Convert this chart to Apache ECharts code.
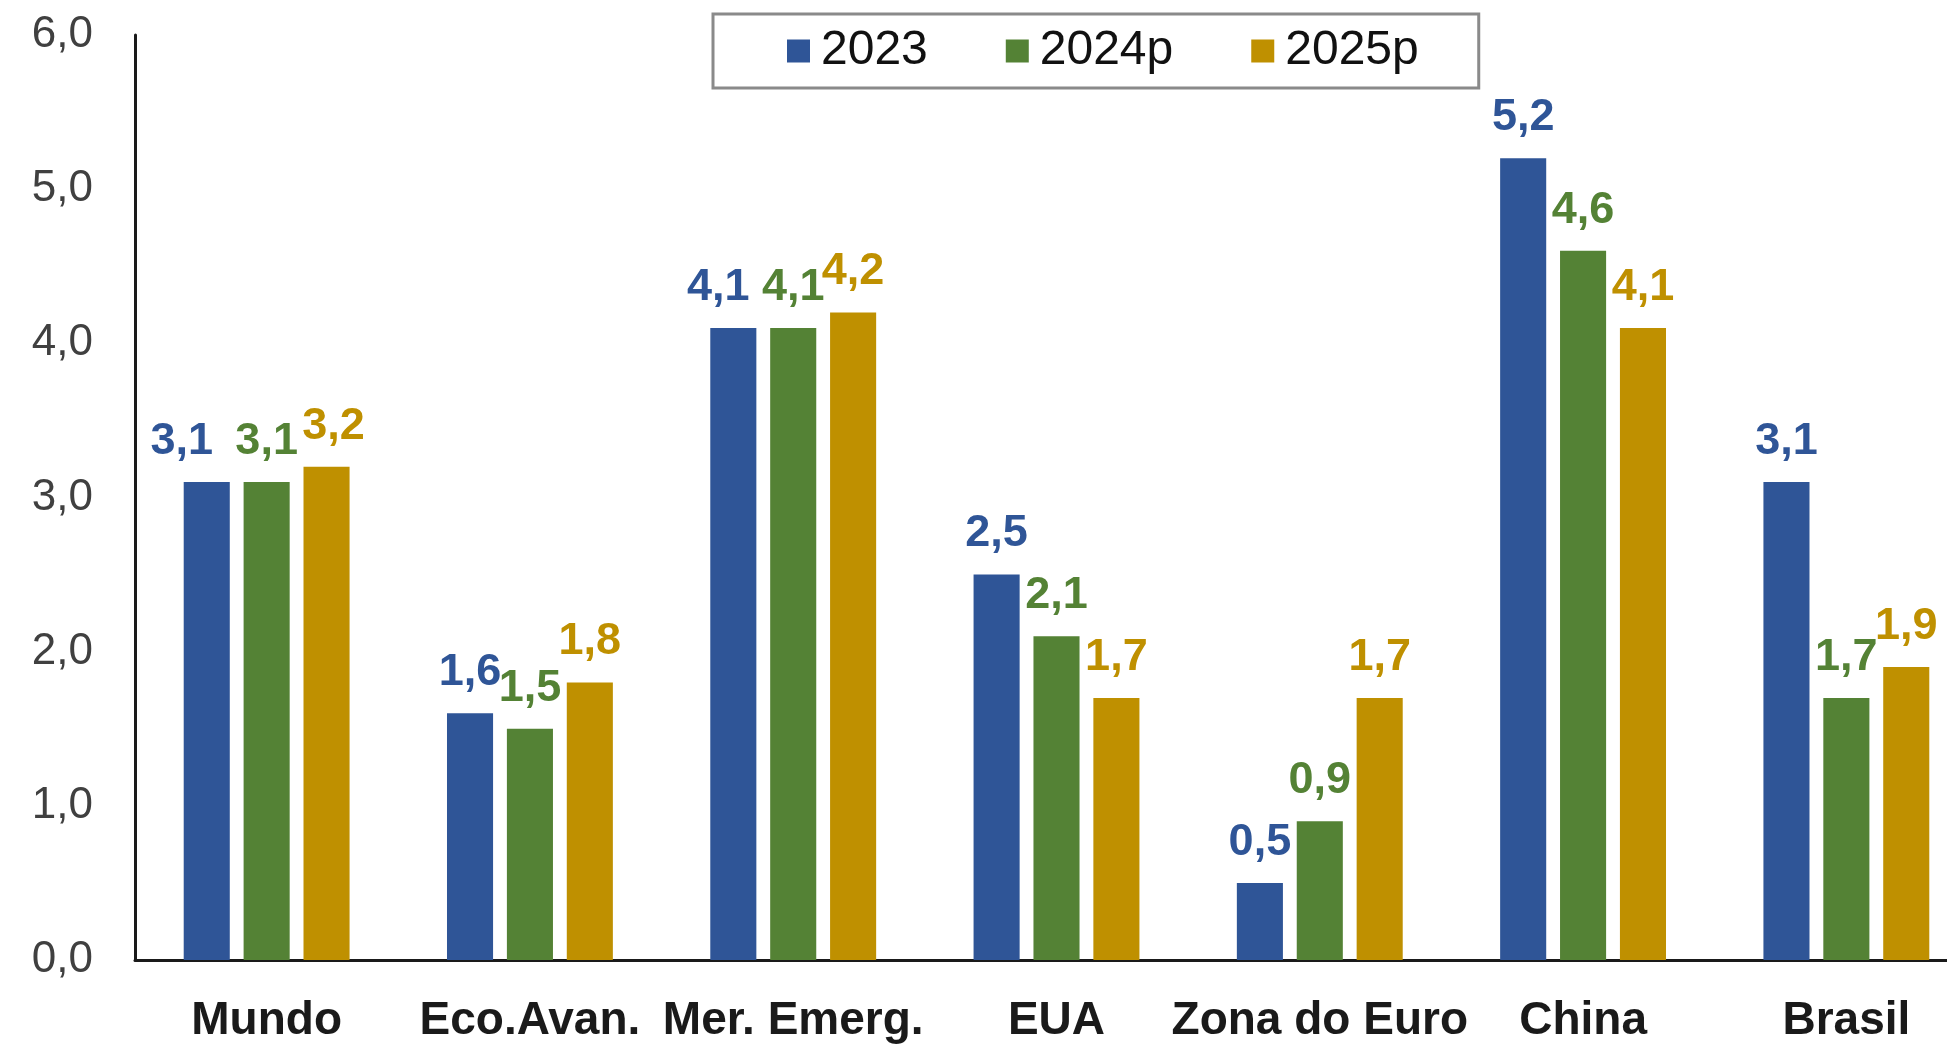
<!DOCTYPE html>
<html>
<head>
<meta charset="utf-8">
<script src="https://cdn.jsdelivr.net/npm/echarts@6/dist/echarts.min.js"></script>
<style>
  html, body { margin: 0; padding: 0; background: #fff; }
  #chart { width: 1947px; height: 1047px; }
</style>
</head>
<body>
<div id="chart"></div>
<script>
var categories = ['Mundo', 'Eco.Avan.', 'Mer. Emerg.', 'EUA', 'Zona do Euro', 'China', 'Brasil'];
var v2023 = [3.1, 1.6, 4.1, 2.5, 0.5, 5.2, 3.1];
var v2024p = [3.1, 1.5, 4.1, 2.1, 0.9, 4.6, 1.7];
var v2025p = [3.2, 1.8, 4.2, 1.7, 1.7, 4.1, 1.9];
var seriesNames = ['2023', '2024p', '2025p'];
var colors = ['#2F5597', '#548235', '#BF9000'];

// a few labels were nudged sideways in the original to avoid overlapping
var labelNudge = [{ 0: -25, 2: -15 }, {}, { 0: 7 }];

var chart = echarts.init(document.getElementById('chart'));

function fmt(v) {
    return v.toFixed(1).replace('.', ',');
}

function makeSeries(idx, data) {
    var color = colors[idx];
    var items = data.map(function (v, i) {
        var dx = labelNudge[idx][i];
        if (dx) return { value: v, label: { offset: [dx, 0] } };
        return v;
    });
    return {
        name: seriesNames[idx],
        type: 'bar',
        data: items,
        barGap: '30%',
        barCategoryGap: '37%',
        itemStyle: { color: color },
        label: {
            show: true,
            position: 'top',
            distance: 18,
            color: color,
            fontFamily: 'Liberation Sans, Arial, sans-serif',
            fontWeight: 'bold',
            fontSize: 45,
            formatter: function (p) { return fmt(p.value); }
        }
    };
}

var option = {
    animation: false,
    color: colors,
    // plot runs a little past the right edge, as in the source image
    grid: { left: 135, width: 1843, top: 35, bottom: 87, containLabel: false, outerBoundsMode: 'none' },
    legend: {
        left: 713,
        top: 14,
        padding: [13, 60, 13, 74],
        itemGap: 78,
        itemWidth: 23,
        itemHeight: 23,
        borderColor: '#8a8a8a',
        borderWidth: 3,
        icon: 'rect',
        textStyle: {
            fontFamily: 'Liberation Sans, Arial, sans-serif',
            fontSize: 48,
            color: '#111',
            padding: [0, 0, 0, 6]
        },
        data: seriesNames
    },
    xAxis: {
        type: 'category',
        data: categories,
        axisLine: { lineStyle: { color: '#1a1a1a', width: 3 } },
        axisTick: { show: false },
        axisLabel: {
            margin: 38,
            color: '#1a1a1a',
            fontFamily: 'Liberation Sans, Arial, sans-serif',
            fontWeight: 'bold',
            fontSize: 46,
            interval: 0
        }
    },
    yAxis: {
        type: 'value',
        min: 0,
        max: 6,
        interval: 1,
        splitLine: { show: false },
        axisTick: { show: false },
        axisLine: { show: true, lineStyle: { color: '#1a1a1a', width: 3 } },
        axisLabel: {
            margin: 42,
            color: '#404040',
            fontFamily: 'Liberation Sans, Arial, sans-serif',
            fontSize: 44,
            formatter: function (v) { return fmt(v); }
        }
    },
    series: [
        makeSeries(0, v2023),
        makeSeries(1, v2024p),
        makeSeries(2, v2025p)
    ]
};

chart.setOption(option);
</script>
</body>
</html>
